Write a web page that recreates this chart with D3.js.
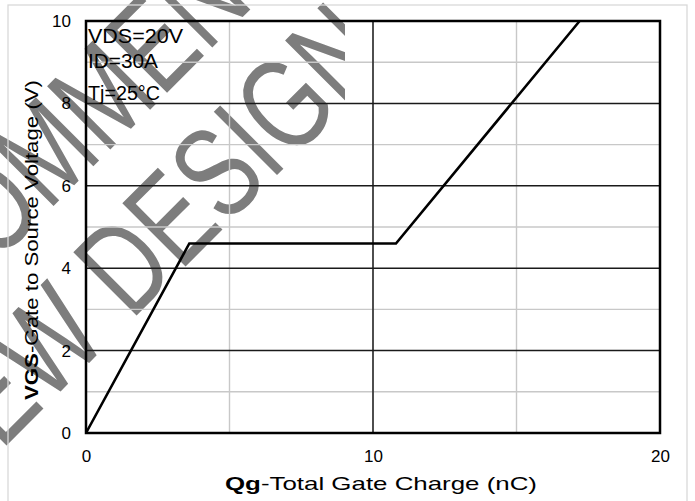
<!DOCTYPE html>
<html>
<head>
<meta charset="utf-8">
<script src="https://cdn.jsdelivr.net/npm/d3@7"></script>
<style>
  body { margin: 0; background: #fff; }
  svg text { font-family: 'Liberation Sans', Arial, sans-serif; }
</style>
</head>
<body>
<div id="chart"></div>
<script>
// gate charge curve
var qg = [0, 3.6, 10.8, 17.2];
var vgs = [0, 4.6, 4.6, 10];
var xTicks = [0, 10, 20];
var yTicks = [0, 2, 4, 6, 8, 10];
var xMajor = [10];
var yMajor = [2, 4, 6, 8];
var xMinor = [5, 15];
var yMinor = [1, 3, 5, 7, 9];
var notes = ['VDS=20V', 'ID=30A', 'Tj=25°C'];
var stampTop = 'NOT RECOMMENDED';
var stampLead = 'FOR NEW';
var stampWord = 'DESIGN';

(function () {
  'use strict';
  var w = 695;
  var h = 501;
  var left = 86, right = 660, top = 21, bottom = 433;

  var svg = d3.select('#chart').append('svg')
    .attr('width', w).attr('height', h);

  svg.append('rect').attr('width', w).attr('height', h).attr('fill', '#fff');

  var x = d3.scaleLinear().domain([0, 20]).range([left, right]);
  var y = d3.scaleLinear().domain([0, 10]).range([bottom, top]);

  drawStamp();

  // chart area frame
  svg.append('rect')
    .attr('x', 8).attr('y', 5).attr('width', 679).attr('height', 520)
    .attr('fill', 'none').attr('stroke', '#d9d9d9').attr('stroke-width', 1.3);

  // gridlines
  svg.selectAll('line.vminor').data(xMinor).enter().append('line')
    .attr('class', 'vminor')
    .attr('x1', x).attr('x2', x).attr('y1', top).attr('y2', bottom)
    .attr('stroke', '#c8c8c8').attr('stroke-width', 1.4);
  svg.selectAll('line.hminor').data(yMinor).enter().append('line')
    .attr('class', 'hminor')
    .attr('x1', left).attr('x2', right).attr('y1', y).attr('y2', y)
    .attr('stroke', '#c8c8c8').attr('stroke-width', 1.4);
  svg.selectAll('line.vmajor').data(xMajor).enter().append('line')
    .attr('class', 'vmajor')
    .attr('x1', x).attr('x2', x).attr('y1', top).attr('y2', bottom)
    .attr('stroke', '#3a3a3a').attr('stroke-width', 1.8);
  svg.selectAll('line.hmajor').data(yMajor).enter().append('line')
    .attr('class', 'hmajor')
    .attr('x1', left).attr('x2', right).attr('y1', y).attr('y2', y)
    .attr('stroke', '#1a1a1a').attr('stroke-width', 1.5);

  // plot border
  svg.append('rect')
    .attr('x', left).attr('y', top)
    .attr('width', right - left).attr('height', bottom - top)
    .attr('fill', 'none').attr('stroke', '#000').attr('stroke-width', 2.5);

  // curve
  var line = d3.line()
    .x(function (d) { return x(d[0]); })
    .y(function (d) { return y(d[1]); });
  svg.append('path')
    .datum(d3.zip(qg, vgs))
    .attr('d', line)
    .attr('fill', 'none').attr('stroke', '#000').attr('stroke-width', 2.6)
    .attr('stroke-linejoin', 'miter');

  // axes (labels only)
  var xAxis = svg.append('g')
    .attr('transform', 'translate(0,' + bottom + ')')
    .call(d3.axisBottom(x).tickValues(xTicks).tickSize(0).tickPadding(17));
  var yAxis = svg.append('g')
    .attr('transform', 'translate(' + left + ',0)')
    .call(d3.axisLeft(y).tickValues(yTicks).tickSize(0).tickPadding(15));
  [xAxis, yAxis].forEach(function (g) {
    g.select('.domain').remove();
    g.selectAll('text')
      .style('font-family', "'Liberation Sans', Arial, sans-serif")
      .style('font-size', '17px').style('fill', '#000');
  });

  // axis titles
  var xt = svg.append('text')
    .attr('x', 381).attr('y', 490)
    .attr('text-anchor', 'middle')
    .attr('textLength', 312).attr('lengthAdjust', 'spacingAndGlyphs')
    .style('font-size', '19px').style('fill', '#000');
  xt.append('tspan').attr('font-weight', 'bold').text('Qg');
  xt.append('tspan').text('-Total Gate Charge (nC)');

  var yt = svg.append('text')
    .attr('transform', 'translate(38,240) rotate(-90)')
    .attr('text-anchor', 'middle')
    .attr('textLength', 320).attr('lengthAdjust', 'spacingAndGlyphs')
    .style('font-size', '19px').style('fill', '#000');
  yt.append('tspan').attr('font-weight', 'bold').text('VGS');
  yt.append('tspan').text('-Gate to Source Voltage (V)');

  // test conditions
  var noteY = [43, 68, 100];
  var noteLen = [95, 70, 72];
  svg.selectAll('text.note').data(notes).enter().append('text')
    .attr('class', 'note')
    .attr('x', 88)
    .attr('y', function (d, i) { return noteY[i]; })
    .attr('textLength', function (d, i) { return noteLen[i]; })
    .attr('lengthAdjust', 'spacingAndGlyphs')
    .style('font-size', '20px').style('fill', '#000')
    .text(function (d) { return d; });

  function drawStamp() {
    svg.append('clipPath').attr('id', 'stampClip')
      .append('rect').attr('x', 0).attr('y', 0).attr('width', 345).attr('height', h);
    var g = svg.append('g')
      .attr('clip-path', 'url(#stampClip)')
      .append('g')
      .attr('transform', 'translate(131,321) rotate(-45) scale(0.74,1)');
    var fs = 130;
    var style = function (t) {
      t.style('font-size', fs + 'px').style('fill', '#7d7d7d');
    };
    g.append('text').attr('x', 0).attr('y', 0).text(stampWord).call(style);
    g.append('text').attr('x', -0.3 * fs).attr('y', 0)
      .attr('text-anchor', 'end').text(stampLead).call(style);
    g.append('text').attr('x', (8.834 / 2 - 5.0) * fs + 95).attr('y', -136)
      .attr('text-anchor', 'middle').text(stampTop).call(style);
  }
})();
</script>
</body>
</html>
